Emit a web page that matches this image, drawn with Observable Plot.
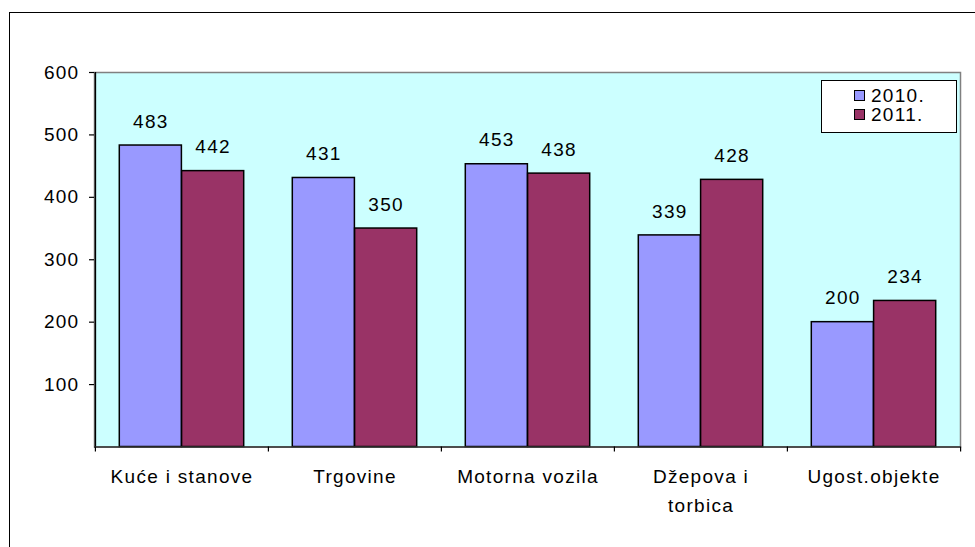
<!DOCTYPE html>
<html>
<head>
<meta charset="utf-8">
<script src="https://cdn.jsdelivr.net/npm/d3@7"></script>
<script src="https://cdn.jsdelivr.net/npm/@observablehq/plot@0.6"></script>
<style>
  html, body { margin: 0; padding: 0; background: #fff; overflow: hidden; }
  #wrap { position: relative; width: 975px; height: 547px; overflow: hidden; font-family: "Liberation Sans", Arial, sans-serif; }
  #wrap svg text { letter-spacing: 1.3px; }
  #outer { position: absolute; left: 9px; top: 12px; width: 1200px; height: 1000px; border: 1.5px solid #000; box-sizing: border-box; pointer-events: none; }
  #legend { position: absolute; left: 821px; top: 80px; width: 136px; height: 53px; border: 1px solid #000; box-sizing: border-box; background: #fff; font-size: 19px; letter-spacing: 1.3px; line-height: 19px; padding-top: 5px; }
  #legend .row { display: flex; align-items: center; padding-left: 32px; }
  #legend .sw { width: 9px; height: 9px; border: 1px solid #000; margin-right: 6px; }
</style>
</head>
<body>
<div id="wrap">
  <div id="chart"></div>
  <div id="outer"></div>
  <div id="legend"></div>
</div>
<script>
const categories = ["Kuće i stanove", "Trgovine", "Motorna vozila", "Džepova i torbica", "Ugost.objekte"];
const categoryLabels = ["Kuće i stanove", "Trgovine", "Motorna vozila", "Džepova i\ntorbica", "Ugost.objekte"];
const series = ["2010.", "2011."];
const values2010 = [483, 431, 453, 339, 200];
const values2011 = [442, 350, 438, 428, 234];
const yTicks = [100, 200, 300, 400, 500, 600];
const colors = ["#9999FF", "#993366"];

const data2010 = categories.map((c, i) => ({cat: c, v: values2010[i]}));
const data2011 = categories.map((c, i) => ({cat: c, v: values2011[i]}));
const labelOf = new Map(categories.map((c, i) => [c, categoryLabels[i]]));

const W = 975, H = 547;
const mL = 94, mR = 15, mT = 72, mB = 100.5;
const bw = (W - mL - mR) / categories.length;
const outerGap = 24.3, barW = 62.3;
const far = bw - outerGap - barW;
const FS = 19;

const chart = Plot.plot({
  width: W, height: H,
  marginLeft: mL, marginRight: mR, marginTop: mT, marginBottom: mB,
  style: {fontFamily: '"Liberation Sans", Arial, sans-serif', fontSize: FS + "px", color: "#000", background: "transparent"},
  x: {type: "band", domain: categories, padding: 0, axis: null, label: null},
  y: {domain: [0, 600], axis: null, label: null},
  marks: [
    Plot.frame({fill: "#CCFFFF", stroke: "#808080", strokeWidth: 1.5}),
    Plot.barY(data2010, {x: "cat", y: "v", fill: colors[0], stroke: "#000", strokeWidth: 1.5, insetLeft: outerGap, insetRight: far}),
    Plot.barY(data2011, {x: "cat", y: "v", fill: colors[1], stroke: "#000", strokeWidth: 1.5, insetLeft: far, insetRight: outerGap}),
    Plot.text(data2010, {x: "cat", y: "v", text: d => String(d.v), dx: -(bw / 2 - outerGap - barW / 2), dy: -24, fontSize: FS, fill: "#000"}),
    Plot.text(data2011, {x: "cat", y: "v", text: d => String(d.v), dx: (bw / 2 - outerGap - barW / 2), dy: -24, fontSize: FS, fill: "#000"}),
    Plot.axisY({ticks: yTicks, tickSize: 5, tickPadding: 10, fontSize: FS, stroke: "#000", strokeWidth: 1.2, label: null}),
    Plot.ruleX(categories.slice(0, 1), {x: d => d, dx: -bw / 2, y1: 0, y2: 600, stroke: "#000", strokeWidth: 1.5}),
    Plot.ruleY([0], {stroke: "#333", strokeWidth: 1.5}),
    Plot.ruleX(categories, {x: d => d, dx: -bw / 2, y1: 0, y2: -8, stroke: "#000", strokeWidth: 1.2}),
    Plot.ruleX(categories.slice(-1), {x: d => d, dx: bw / 2, y1: 0, y2: -8, stroke: "#000", strokeWidth: 1.2}),
    Plot.axisX({tickSize: 0, tickPadding: 15, fontSize: FS, lineHeight: 1.55, label: null, tickFormat: d => labelOf.get(d)})
  ]
});
document.getElementById("chart").append(chart);

const legend = document.getElementById("legend");
series.forEach((s, i) => {
  const row = document.createElement("div");
  row.className = "row";
  const sw = document.createElement("span");
  sw.className = "sw";
  sw.style.background = colors[i];
  const t = document.createElement("span");
  t.textContent = s;
  row.append(sw, t);
  legend.append(row);
});
</script>
</body>
</html>
